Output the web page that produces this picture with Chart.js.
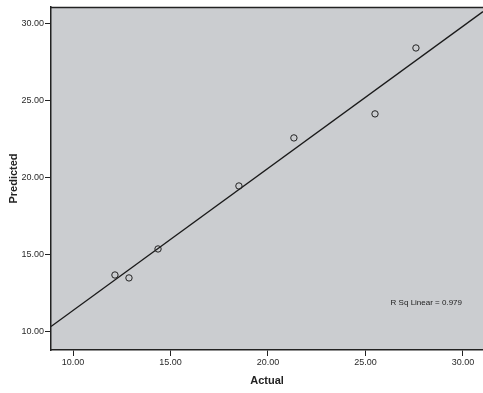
<!DOCTYPE html>
<html>
<head>
<meta charset="utf-8">
<script src="https://cdn.jsdelivr.net/npm/chart.js@4/dist/chart.umd.min.js"></script>
<style>
  html, body { margin: 0; padding: 0; background: #fff; }
  #chart { display: block; }
</style>
</head>
<body>
<canvas id="chart" width="483" height="393"></canvas>
<script>
const actual    = [12.15, 12.87, 14.36, 18.51, 21.33, 25.49, 27.59];
const predicted = [13.70, 13.51, 15.39, 19.48, 22.60, 24.16, 28.44];

// axis ticks
const xTicks = [10, 15, 20, 25, 30];
const yTicks = [10, 15, 20, 25, 30];
const xRange = [8.87, 31.03];
const yRange = [8.83, 31.10];

const fitLabel = 'R Sq Linear = 0.979';

// least squares fit for the reference line
const n = actual.length;
const mx = actual.reduce((a, b) => a + b, 0) / n;
const my = predicted.reduce((a, b) => a + b, 0) / n;
let sxy = 0, sxx = 0;
for (let i = 0; i < n; i++) {
    sxy += (actual[i] - mx) * (predicted[i] - my);
    sxx += (actual[i] - mx) ** 2;
}
const slope = sxy / sxx;
const intercept = my - slope * mx;
const fitLine = xRange.map(x => ({ x: x, y: intercept + slope * x }));

// plot background, top border and the R sq label
const plotFrame = {
    id: 'plotFrame',
    beforeDraw(chart) {
        const { ctx, chartArea: a } = chart;
        ctx.save();
        ctx.fillStyle = '#cbcdd0';
        ctx.fillRect(a.left, a.top, a.right - a.left, a.bottom - a.top);
        ctx.restore();
    },
    afterDraw(chart) {
        const { ctx, chartArea: a } = chart;
        ctx.save();
        ctx.strokeStyle = '#222';
        ctx.lineWidth = 1.5;
        ctx.beginPath();
        ctx.moveTo(a.left, a.top + 0.5);
        ctx.lineTo(a.right, a.top + 0.5);
        ctx.stroke();
        ctx.fillStyle = '#222';
        ctx.font = '8px "Liberation Sans", Arial, sans-serif';
        ctx.textAlign = 'right';
        ctx.textBaseline = 'middle';
        ctx.fillText(fitLabel, a.right - 21, a.bottom - 47);
        ctx.restore();
    }
};

const tickFont = { family: '"Liberation Sans", Arial, sans-serif', size: 9 };
const titleFont = { family: '"Liberation Sans", Arial, sans-serif', size: 11, weight: 'bold' };

new Chart(document.getElementById('chart'), {
    type: 'scatter',
    data: {
        datasets: [
            {
                label: 'Observed',
                data: actual.map((x, i) => ({ x: x, y: predicted[i] })),
                pointRadius: 3.2,
                pointBackgroundColor: 'rgba(0,0,0,0)',
                pointBorderColor: '#222',
                pointBorderWidth: 1,
                showLine: false,
            },
            {
                label: 'Fit',
                type: 'line',
                data: fitLine,
                borderColor: '#1a1a1a',
                borderWidth: 1.3,
                pointRadius: 0,
                fill: false,
            },
        ],
    },
    options: {
        responsive: false,
        animation: false,
        layout: { autoPadding: false, padding: { top: 7, right: 0, left: 0, bottom: 0 } },
        plugins: {
            legend: { display: false },
            tooltip: { enabled: false },
        },
        scales: {
            x: {
                type: 'linear',
                min: xRange[0],
                max: xRange[1],
                afterBuildTicks: s => { s.ticks = xTicks.map(v => ({ value: v })); },
                afterFit: s => { s.height = 43; s.paddingLeft = 0; s.paddingRight = 0; },
                grid: { drawOnChartArea: false, tickLength: 6, color: '#222', tickWidth: 1 },
                border: { display: true, color: '#222', width: 1.5 },
                ticks: { color: '#2a2a2a', font: tickFont, padding: 1, maxRotation: 0, callback: v => v.toFixed(2) },
                title: { display: true, text: 'Actual', color: '#222', font: titleFont, padding: { top: 0, bottom: 5 } },
            },
            y: {
                type: 'linear',
                min: yRange[0],
                max: yRange[1],
                afterBuildTicks: s => { s.ticks = yTicks.map(v => ({ value: v })); },
                afterFit: s => { s.width = 51; s.paddingTop = 0; s.paddingBottom = 0; },
                grid: { drawOnChartArea: false, tickLength: 6, color: '#222', tickWidth: 1 },
                border: { display: true, color: '#222', width: 1.5 },
                ticks: { color: '#2a2a2a', font: tickFont, padding: 1, callback: v => v.toFixed(2) },
                title: { display: true, text: 'Predicted', color: '#222', font: titleFont, padding: { top: 7, bottom: 0 } },
            },
        },
    },
    plugins: [plotFrame],
});
</script>
</body>
</html>
